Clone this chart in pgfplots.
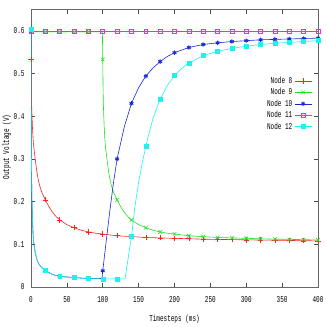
\documentclass[border=0pt]{standalone}
\usepackage{fontspec}
\setmainfont{Liberation Mono}[FakeStretch=0.67]
\usepackage{pgfplots}
\pgfplotsset{compat=1.18}

% gnuplot-like colours
\definecolor{gpred}{HTML}{FF2020}
\definecolor{gpgreen}{HTML}{20E020}
\definecolor{gpblue}{HTML}{1828D8}
\definecolor{gpmag}{HTML}{FF20FF}
\definecolor{gpcyan}{HTML}{20F0F0}

\begin{document}
\begin{tikzpicture}
\useasboundingbox (-31bp,-40bp) rectangle (296bp,287bp);
\begin{axis}[
  at={(0,0)}, anchor=south west,
  scale only axis,
  width=287bp, height=277.5bp,
  xmin=0, xmax=400, ymin=0, ymax=0.65,
  xtick={0,50,...,400},
  ytick={0,0.1,0.2,0.3,0.4,0.5,0.6},
  tick align=inside,
  major tick length=4bp,
  axis line style={gray!80!black, line width=1bp},
  tick style={gray!60!black, line width=0.6bp},
  font=\fontsize{9}{10}\selectfont,
  tick label style={font=\fontsize{9}{10}\selectfont},
  xticklabel style={yshift=-6bp},
  yticklabel style={xshift=-3bp},
  /pgf/number format/assume math mode=true,
  /pgf/number format/fixed,
  xlabel={Timesteps (ms)},
  ylabel={Output Voltage (V)},
  xlabel style={at={(axis description cs:0.5,-0.115)}, anchor=center},
  ylabel style={at={(axis description cs:-0.084,0.505)}, anchor=center},
  legend plot pos=right,
  legend cell align=right,
  legend style={draw=none, fill=none, at={(0.983,0.768)}, anchor=north east,
    font=\fontsize{9}{10}\selectfont, row sep=-0.6pt, inner sep=1pt},
]
\addlegendimage{gpred, line width=0.6pt, mark=+, mark size=2.6pt}
\addlegendentry{Node 8}
\addlegendimage{gpgreen, line width=0.6pt, mark=x, mark size=2.6pt}
\addlegendentry{Node 9}
\addlegendimage{gpblue, line width=0.6pt, mark=asterisk, mark size=2.2pt, mark options={line width=1pt}}
\addlegendentry{Node 10}
\addlegendimage{gpmag, line width=0.6pt, mark=square, mark size=2pt}
\addlegendentry{Node 11}
\addlegendimage{gpcyan, line width=0.6pt, mark=square*, mark size=2pt}
\addlegendentry{Node 12}

% Node 8
\addplot[gpred, line width=0.6pt, forget plot] coordinates {
(0,0.533)(0.5,0.46)(1,0.42)(2,0.375)(3,0.345)(4,0.325)(6,0.298)(8,0.272)(10,0.252)
(12,0.238)(15,0.222)(20,0.204)(25,0.188)(30,0.175)(35,0.165)(40,0.157)(50,0.146)
(60,0.139)(70,0.133)(80,0.129)(90,0.126)(100,0.124)(120,0.12)(140,0.118)(160,0.116)
(180,0.115)(200,0.114)(240,0.112)(280,0.111)(320,0.110)(360,0.109)(400,0.108)};
\addplot[gpred, only marks, mark=+, mark size=2.6pt, line width=0.6pt, forget plot] coordinates {
(0,0.533)(20,0.204)(40,0.157)(60,0.139)(80,0.129)(100,0.124)(120,0.12)(140,0.118)
(160,0.116)(180,0.115)(200,0.114)(220,0.113)(240,0.112)(260,0.111)(280,0.111)
(300,0.110)(320,0.110)(340,0.109)(360,0.109)(380,0.108)(400,0.108)};

% Node 9
\addplot[gpgreen, line width=0.6pt, forget plot] coordinates {
(0,0.598)(99.5,0.598)(100,0.533)(100.5,0.46)(101,0.42)(102,0.375)(103,0.345)(104,0.325)
(106,0.298)(108,0.272)(110,0.252)(112,0.238)(115,0.222)(120,0.204)(125,0.188)(130,0.175)
(135,0.165)(140,0.157)(150,0.146)(160,0.139)(170,0.133)(180,0.129)(190,0.126)(200,0.124)
(220,0.12)(240,0.118)(260,0.116)(280,0.115)(300,0.114)(340,0.112)(380,0.111)(400,0.110)};
\addplot[gpgreen, only marks, mark=x, mark size=2.6pt, line width=0.6pt, forget plot] coordinates {
(0,0.598)(20,0.598)(40,0.598)(60,0.598)(80,0.598)(100,0.533)(120,0.204)(140,0.157)
(160,0.139)(180,0.129)(200,0.124)(220,0.12)(240,0.118)(260,0.116)(280,0.115)(300,0.114)
(320,0.113)(340,0.112)(360,0.111)(380,0.111)(400,0.110)};

% Node 10
\addplot[gpblue, line width=0.6pt, forget plot] coordinates {
(0,0.6)(0.3,0.4)(0.7,0.28)(1.2,0.21)(2,0.16)(3,0.12)(4,0.1)(6,0.08)(8,0.066)(10,0.057)
(13,0.049)(16,0.044)(20,0.039)(30,0.029)(40,0.025)(60,0.022)(80,0.02)(99,0.02)
(100,0.038)(105,0.11)(110,0.18)(115,0.245)(120,0.3)(130,0.375)(140,0.43)(150,0.467)
(160,0.494)(170,0.513)(180,0.528)(190,0.54)(200,0.549)(220,0.561)(240,0.568)(260,0.572)
(280,0.575)(300,0.577)(320,0.579)(340,0.58)(360,0.581)(380,0.582)(400,0.583)};
\addplot[gpblue, only marks, mark=asterisk, mark size=2.2pt, mark options={line width=1pt}, forget plot] coordinates {
(0,0.6)(20,0.039)(40,0.025)(60,0.022)(80,0.02)(100,0.038)(120,0.3)(140,0.43)(160,0.494)
(180,0.528)(200,0.549)(220,0.561)(240,0.568)(260,0.572)(280,0.575)(300,0.577)
(320,0.579)(340,0.58)(360,0.581)(380,0.582)(400,0.583)};

% Node 11
\addplot[gpmag, line width=0.6pt, mark=square, mark size=2pt, forget plot] coordinates {
(0,0.6)(20,0.6)(40,0.6)(60,0.6)(80,0.6)(100,0.6)(120,0.6)(140,0.6)(160,0.6)(180,0.6)
(200,0.6)(220,0.6)(240,0.6)(260,0.6)(280,0.6)(300,0.6)(320,0.6)(340,0.6)(360,0.6)
(380,0.6)(400,0.6)};

% Node 12
\addplot[gpcyan, line width=0.6pt, forget plot] coordinates {
(0,0.605)(0.3,0.4)(0.7,0.28)(1.2,0.21)(2,0.16)(3,0.12)(4,0.1)(6,0.08)(8,0.066)(10,0.057)
(13,0.049)(16,0.044)(20,0.039)(25,0.033)(30,0.029)(40,0.025)(50,0.023)(60,0.022)
(80,0.02)(100,0.019)(120,0.019)(131,0.019)(140,0.118)(145,0.19)(150,0.245)(155,0.29)
(160,0.33)(170,0.395)(180,0.44)(190,0.472)(200,0.495)(210,0.512)(220,0.525)(240,0.542)
(260,0.552)(280,0.559)(300,0.564)(320,0.568)(340,0.571)(360,0.573)(380,0.575)(400,0.577)};
\addplot[gpcyan, only marks, mark=square*, mark size=2pt, forget plot] coordinates {
(0,0.605)(20,0.039)(40,0.025)(60,0.022)(80,0.02)(100,0.019)(120,0.019)(140,0.118)
(160,0.33)(180,0.44)(200,0.495)(220,0.525)(240,0.542)(260,0.552)(280,0.559)(300,0.564)
(320,0.568)(340,0.571)(360,0.573)(380,0.575)(400,0.577)};
\end{axis}
\end{tikzpicture}
\end{document}
